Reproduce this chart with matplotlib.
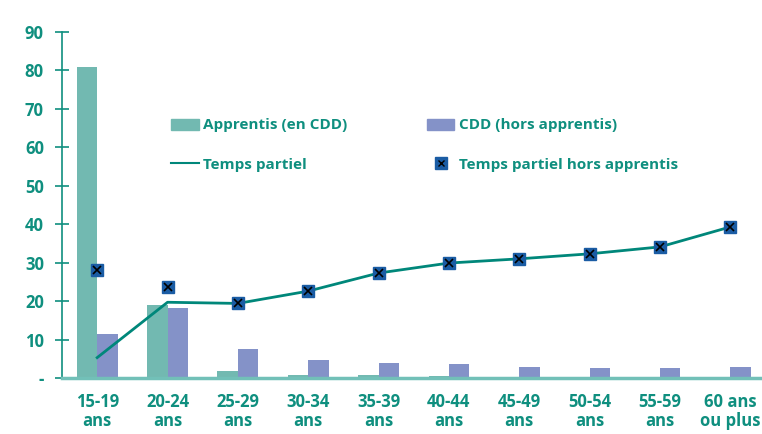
import numpy as np
import matplotlib
matplotlib.use("Agg")
import matplotlib.pyplot as plt
from matplotlib.lines import Line2D
from matplotlib.patches import Patch

# age groups
categories = ["15-19\nans", "20-24\nans", "25-29\nans", "30-34\nans", "35-39\nans",
              "40-44\nans", "45-49\nans", "50-54\nans", "55-59\nans", "60 ans\nou plus"]
apprentis = [81.0, 19.0, 1.8, 0.8, 0.8, 0.5, 0, 0, 0, 0]
cdd = [11.5, 18.2, 7.6, 4.7, 3.9, 3.6, 2.8, 2.5, 2.5, 2.8]
temps_partiel = [5.3, 19.7, 19.4, 22.6, 27.3, 29.9, 31.0, 32.3, 34.1, 39.3]
tp_hors_apprentis = [28.0, 23.6, 19.4, 22.6, 27.3, 29.9, 31.0, 32.3, 34.1, 39.3]
yticks = [0, 10, 20, 30, 40, 50, 60, 70, 80, 90]
yticklabels = ["-", "10", "20", "30", "40", "50", "60", "70", "80", "90"]

teal = "#0f8f7f"
green = "#72b9b1"
purple = "#8492c8"
line_col = "#00877a"
marker_col = "#1a5ca4"

plt.rcParams['font.family'] = ['Open Sans', 'DejaVu Sans']
plt.rcParams['font.weight'] = 'bold'

fig = plt.figure(figsize=(7.62, 4.34), dpi=100)
ax = fig.add_axes([62 / 762, 1 - 378 / 434, 1 - 62 / 762, (378 - 32) / 434])

x = np.arange(len(categories))
w = 0.29
ax.bar(x - w / 2, apprentis, w, color=green, zorder=2)
ax.bar(x + w / 2, cdd, w, color=purple, zorder=2)
ax.plot(x, temps_partiel, color=line_col, lw=2, zorder=3)
ax.plot(x, tp_hors_apprentis, ls="none", marker="s", ms=9, color=marker_col, zorder=4)
ax.plot(x, tp_hors_apprentis, ls="none", marker="x", ms=6, mew=1.2, color="black", zorder=5)

ax.set_xlim(-0.5, 9.45)
ax.set_ylim(0, 90)
ax.set_yticks(yticks)
ax.set_yticklabels(yticklabels)
ax.set_xticks(x)
ax.set_xticklabels(categories, linespacing=1.05)

for s in ["top", "right"]:
    ax.spines[s].set_visible(False)
ax.spines["left"].set_color(teal)
ax.spines["left"].set_linewidth(1.2)
ax.spines["bottom"].set_color("#72c0b8")
ax.spines["bottom"].set_linewidth(2.5)
ax.spines["bottom"].set_zorder(6)

ax.tick_params(axis="y", direction="inout", length=10, width=1.2, color=teal,
               labelcolor=teal, labelsize=12, pad=8)
ax.tick_params(axis="x", length=0, labelcolor=teal, labelsize=12, pad=11)
for lbl in ax.get_xticklabels() + ax.get_yticklabels():
    lbl.set_fontweight("bold")

handles = [Patch(color=green), Line2D([], [], color=line_col, lw=1.5),
           Patch(color=purple),
           (Line2D([], [], ls="none", marker="s", ms=8, color=marker_col),
            Line2D([], [], ls="none", marker="x", ms=5, mew=1, color="black"))]
labels = ["Apprentis (en CDD)", "Temps partiel", "CDD (hors apprentis)",
          "Temps partiel hors apprentis"]
leg = ax.legend(handles, labels, ncol=2, loc="upper left", bbox_to_anchor=(0.156, 0.75),
                frameon=False, fontsize=11, handlelength=1.8, handletextpad=0.3,
                columnspacing=5.2, labelspacing=1.65, borderpad=0, borderaxespad=0)
for t in leg.get_texts():
    t.set_color(teal)
    t.set_fontweight("bold")

fig.savefig("out.png", dpi=100)
